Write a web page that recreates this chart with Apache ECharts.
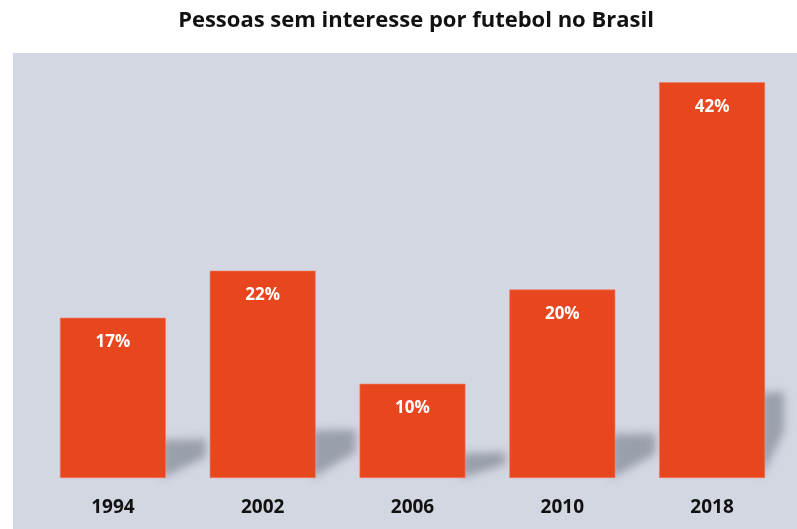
<!DOCTYPE html>
<html>
<head>
<meta charset="utf-8">
<script src="https://cdn.jsdelivr.net/npm/echarts@6/dist/echarts.min.js"></script>
<style>
html,body{margin:0;padding:0;background:#fff;}
#chart{width:797px;height:529px;}
</style>
</head>
<body>
<div id="chart"></div>
<script>
const titleText = 'Pessoas sem interesse por futebol no Brasil';
const categories = ['1994', '2002', '2006', '2010', '2018'];
const values = [17, 22, 10, 20, 42];

const chart = echarts.init(document.getElementById('chart'));
const BAR_RATIO = 0.707;
const OFF = 3000;

const shadowData = values.map((v, i) => [i, v]);

chart.setOption({
  animation: false,
  backgroundColor: '#ffffff',
  title: {
    text: titleText,
    left: 411,
    textAlign: 'center',
    top: 5,
    textStyle: {
      fontFamily: 'Open Sans',
      fontWeight: 'bold',
      fontSize: 22,
      color: '#111111'
    }
  },
  graphic: [{
    type: 'rect',
    z: -10,
    silent: true,
    shape: { x: 13, y: 53, width: 784, height: 476 },
    style: { fill: '#d3d7e1' }
  }],
  grid: { left: 38, right: 10, top: 54, bottom: 51 },
  xAxis: {
    type: 'category',
    data: categories,
    axisLine: { show: false },
    axisTick: { show: false },
    axisLabel: {
      margin: 20,
      fontFamily: 'Open Sans',
      fontWeight: 'bold',
      fontSize: 19,
      color: '#111111'
    }
  },
  yAxis: {
    type: 'value',
    min: 0,
    max: 45,
    show: false,
    splitLine: { show: false }
  },
  series: [
    {
      type: 'custom',
      z: 1,
      silent: true,
      clip: false,
      data: shadowData,
      renderItem: function (params, api) {
        const i = api.value(0), v = api.value(1);
        const base = api.coord([i, 0]);
        const top = api.coord([i, v]);
        const bw = api.size([1, 0])[0] * BAR_RATIO;
        const xr = base[0] + bw / 2;
        const h = base[1] - top[1];
        const sh = h * 0.2 + 6;
        const dx = Math.min(40, 784 - xr);
        const y0 = base[1];
        return {
          type: 'polygon',
          shape: {
            points: [
              [xr - 4 - OFF, y0],
              [xr - 4 - OFF, y0 - sh],
              [xr + dx - OFF, y0 - sh - 1],
              [xr + dx - OFF, y0 - sh * 0.55]
            ]
          },
          style: {
            fill: 'rgba(0,0,0,1)',
            shadowBlur: 9,
            shadowOffsetX: OFF,
            shadowColor: 'rgba(130,135,150,0.7)'
          }
        };
      }
    },
    {
      type: 'bar',
      z: 2,
      data: values,
      barWidth: (BAR_RATIO * 100) + '%',
      itemStyle: {
        color: '#e8461f',
        borderColor: '#ee7a62',
        borderWidth: 0.6
      },
      label: {
        show: true,
        position: 'insideTop',
        distance: 16,
        formatter: '{c}%',
        fontFamily: 'Open Sans',
        fontWeight: 'bold',
        fontSize: 17,
        color: '#ffffff'
      }
    }
  ]
});
</script>
</body>
</html>
